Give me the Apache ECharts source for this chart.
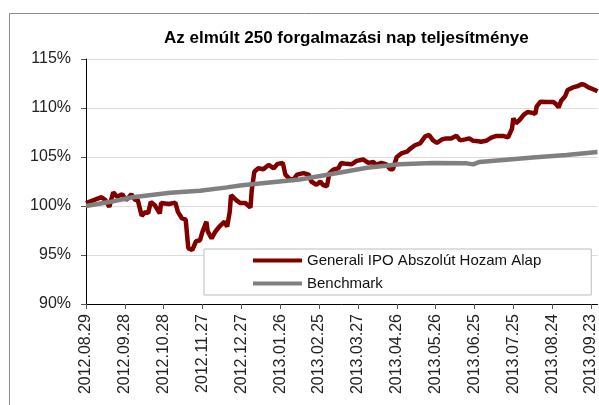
<!DOCTYPE html>
<html>
<head>
<meta charset="utf-8">
<script src="https://cdn.jsdelivr.net/npm/echarts@6/dist/echarts.min.js"></script>
<style>
	html, body { margin: 0; padding: 0; background: #fff; }
	#chart { width: 599px; height: 405px; }
</style>
</head>
<body>
<div id="chart"></div>
<script>
	var titleText = 'Az elmúlt 250 forgalmazási nap teljesítménye'
	var seriesNames = ['Generali IPO Abszolút Hozam Alap', 'Benchmark']
	var startDate = '2012.08.29'
	var xTickLabels = ['2012.08.29', '2012.09.28', '2012.10.28', '2012.11.27', '2012.12.27', '2013.01.26', '2013.02.25',
		'2013.03.27', '2013.04.26', '2013.05.26', '2013.06.25', '2013.07.25', '2013.08.24', '2013.09.23']
	var yTicks = [90, 95, 100, 105, 110, 115]

	// alap (%)
	var fundDates = ['2012.08.29', '2012.09.04', '2012.09.10', '2012.09.13', '2012.09.16', '2012.09.19', '2012.09.22', '2012.09.26',
		'2012.09.29', '2012.10.03', '2012.10.06', '2012.10.08', '2012.10.11', '2012.10.14', '2012.10.16', '2012.10.18',
		'2012.10.21', '2012.10.25', '2012.10.26', '2012.11.01', '2012.11.06', '2012.11.08', '2012.11.11', '2012.11.14',
		'2012.11.16', '2012.11.19', '2012.11.22', '2012.11.25', '2012.11.27', '2012.11.30', '2012.12.01', '2012.12.04',
		'2012.12.07', '2012.12.10', '2012.12.14', '2012.12.16', '2012.12.18', '2012.12.19', '2012.12.23', '2012.12.26',
		'2012.12.30', '2013.01.03', '2013.01.04', '2013.01.06', '2013.01.09', '2013.01.13', '2013.01.17', '2013.01.21',
		'2013.01.24', '2013.01.28', '2013.01.30', '2013.02.02', '2013.02.05', '2013.02.08', '2013.02.13', '2013.02.17',
		'2013.02.19', '2013.02.23', '2013.02.26', '2013.02.28', '2013.03.03', '2013.03.05', '2013.03.08', '2013.03.12',
		'2013.03.14', '2013.03.18', '2013.03.22', '2013.03.26', '2013.03.31', '2013.04.04', '2013.04.08', '2013.04.10',
		'2013.04.14', '2013.04.18', '2013.04.21', '2013.04.23', '2013.04.26', '2013.04.30', '2013.05.04', '2013.05.06',
		'2013.05.10', '2013.05.14', '2013.05.18', '2013.05.21', '2013.05.24', '2013.05.27', '2013.05.31', '2013.06.03',
		'2013.06.07', '2013.06.11', '2013.06.14', '2013.06.18', '2013.06.21', '2013.06.24', '2013.06.28', '2013.06.30',
		'2013.07.04', '2013.07.08', '2013.07.12', '2013.07.17', '2013.07.21', '2013.07.24', '2013.07.25', '2013.07.27',
		'2013.07.30', '2013.08.02', '2013.08.05', '2013.08.09', '2013.08.11', '2013.08.12', '2013.08.15', '2013.08.20',
		'2013.08.25', '2013.08.27', '2013.08.29', '2013.08.31', '2013.09.03', '2013.09.05', '2013.09.09', '2013.09.13',
		'2013.09.16', '2013.09.18', '2013.09.21', '2013.09.23', '2013.09.26', '2013.09.28']
	var fundValues = [100.3, 100.6, 100.9, 100.6, 99.9, 101.4, 100.95, 101.2,
		100.6, 101.2, 100.6, 100.6, 99.0, 99.4, 99.25, 100.4,
		100.1, 99.25, 100.3, 100.2, 100.35, 99.4, 98.75, 98.6,
		95.7, 95.5, 96.4, 96.5, 97.4, 98.4, 97.4, 96.7,
		97.4, 97.9, 98.4, 97.9, 99.4, 101.1, 100.6, 100.3,
		100.3, 99.85, 101.6, 103.5, 103.85, 103.75, 104.2, 103.85,
		104.3, 104.4, 103.2, 102.8, 102.65, 103.2, 103.35, 103.2,
		102.5, 102.15, 102.5, 102.15, 102.0, 103.35, 103.7, 103.85,
		104.4, 104.3, 104.25, 104.6, 104.75, 104.4, 104.5, 104.2,
		104.4, 104.25, 103.75, 103.75, 105.0, 105.4, 105.55, 105.8,
		106.2, 106.4, 107.1, 107.25, 106.7, 106.45, 106.8, 106.9,
		106.9, 107.17, 106.7, 106.8, 106.9, 106.65, 106.6, 106.55,
		106.65, 106.97, 107.15, 107.15, 107.0, 107.9, 108.95, 108.44,
		108.8, 109.3, 109.6, 109.5, 109.4, 110.13, 110.64, 110.6,
		110.6, 110.4, 110.07, 110.75, 111.2, 111.84, 112.1, 112.24,
		112.45, 112.35, 112.1, 112.0, 111.84, 111.7]

	// benchmark (%)
	var benchDates = ['2012.08.29', '2012.09.16', '2012.10.04', '2012.11.02', '2012.11.25', '2012.12.16', '2012.12.26',
		'2013.01.10', '2013.02.10', '2013.03.08', '2013.04.03', '2013.04.28', '2013.05.24', '2013.06.19', '2013.06.24',
		'2013.06.29', '2013.08.09', '2013.09.04', '2013.09.28']
	var benchValues = [100.0, 100.4, 100.9, 101.35, 101.55, 101.9, 102.1,
		102.3, 102.7, 103.3, 103.9, 104.25, 104.4, 104.35, 104.25,
		104.5, 104.95, 105.2, 105.5]

	function dayOf(str) {
		var p = str.split('.')
		var s = startDate.split('.')
		return Math.round((Date.UTC(+p[0], +p[1] - 1, +p[2]) - Date.UTC(+s[0], +s[1] - 1, +s[2])) / 86400000)
	}
	function pairs(dates, values) {
		var out = []
		for (var i = 0; i < dates.length; i++) {
			out.push([dayOf(dates[i]), values[i]])
		}
		return out
	}

	var font = '"Liberation Sans", Arial, sans-serif'
	var chart = echarts.init(document.getElementById('chart'))
	chart.setOption({
		animation: false,
		textStyle: { fontFamily: font },
		graphic: [{
			type: 'rect',
			shape: { x: 9.5, y: 13.5, width: 700, height: 500 },
			style: { fill: 'none', stroke: '#8c8c8c', lineWidth: 1 },
			silent: true
		}],
		title: {
			text: titleText,
			left: 159,
			top: 25,
			textStyle: { fontSize: 17, fontWeight: 'bold', color: '#000', fontFamily: font }
		},
		grid: { left: 86, right: 1, top: 59, bottom: 101, containLabel: false },
		xAxis: {
			type: 'value',
			min: 0,
			max: 395,
			interval: 30,
			axisLine: { show: true, lineStyle: { color: '#000', width: 1 } },
			axisTick: { show: true, length: 5, lineStyle: { color: '#555' } },
			splitLine: { show: false },
			axisLabel: {
				rotate: 90,
				margin: 10,
				fontSize: 16,
				color: '#222',
				showMaxLabel: false,
				formatter: function (v) {
					return v % 30 === 0 ? (xTickLabels[v / 30] || '') : ''
				}
			}
		},
		yAxis: {
			type: 'value',
			min: yTicks[0],
			max: yTicks[yTicks.length - 1],
			interval: 5,
			axisLine: { show: true, lineStyle: { color: '#000', width: 1 } },
			axisTick: { show: true, length: 5, lineStyle: { color: '#555' } },
			splitLine: { show: true, lineStyle: { color: '#dcdcdc', width: 1 } },
			axisLabel: { fontSize: 16, color: '#222', margin: 15, formatter: '{value}%' }
		},
		legend: {
			orient: 'vertical',
			left: 204,
			top: 249,
			padding: [4, 50, 4, 49],
			itemGap: 8,
			itemWidth: 49,
			itemHeight: 4,
			icon: 'rect',
			backgroundColor: '#fff',
			borderColor: '#bdbdbd',
			borderWidth: 1,
			borderRadius: 0,
			textStyle: { fontSize: 15, color: '#111', padding: [0, 0, 0, 0] },
			data: seriesNames
		},
		series: [{
			name: seriesNames[0],
			type: 'line',
			data: pairs(fundDates, fundValues),
			showSymbol: false,
			lineStyle: { color: '#800000', width: 4.5 },
			itemStyle: { color: '#800000' }
		}, {
			name: seriesNames[1],
			type: 'line',
			data: pairs(benchDates, benchValues),
			showSymbol: false,
			lineStyle: { color: '#808080', width: 4.5 },
			itemStyle: { color: '#808080' }
		}]
	})
</script>
</body>
</html>
